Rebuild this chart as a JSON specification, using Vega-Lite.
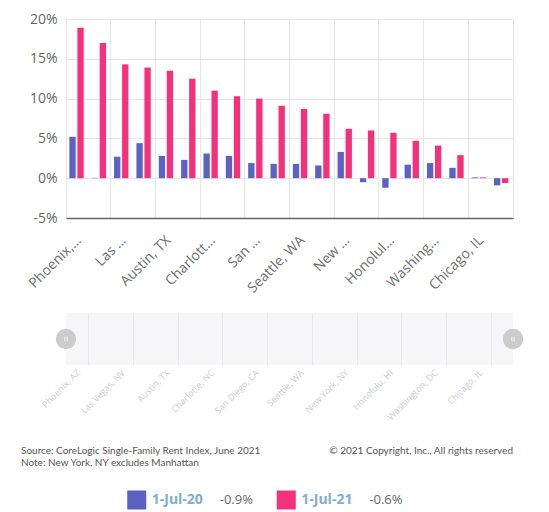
{
  "$schema": "https://vega.github.io/schema/vega-lite/v6.json",
  "background": "white",
  "padding": {"left": 21, "top": 11, "right": 5, "bottom": 0},
  "spacing": 17,
  "config": {"view": {"stroke": null}, "font": "Open Sans"},
  "datasets": {
    "rent": [
      {"city": "Phoenix, AZ", "series": "1-Jul-20", "value": 5.2},
      {"city": "Phoenix, AZ", "series": "1-Jul-21", "value": 18.9},
      {"city": "Tampa, FL", "series": "1-Jul-20", "value": 0.05},
      {"city": "Tampa, FL", "series": "1-Jul-21", "value": 17.0},
      {"city": "Las Vegas, NV", "series": "1-Jul-20", "value": 2.7},
      {"city": "Las Vegas, NV", "series": "1-Jul-21", "value": 14.3},
      {"city": "Atlanta, GA", "series": "1-Jul-20", "value": 4.4},
      {"city": "Atlanta, GA", "series": "1-Jul-21", "value": 13.9},
      {"city": "Austin, TX", "series": "1-Jul-20", "value": 2.8},
      {"city": "Austin, TX", "series": "1-Jul-21", "value": 13.5},
      {"city": "Miami, FL", "series": "1-Jul-20", "value": 2.3},
      {"city": "Miami, FL", "series": "1-Jul-21", "value": 12.5},
      {"city": "Charlotte, NC", "series": "1-Jul-20", "value": 3.1},
      {"city": "Charlotte, NC", "series": "1-Jul-21", "value": 11.0},
      {"city": "Dallas, TX", "series": "1-Jul-20", "value": 2.8},
      {"city": "Dallas, TX", "series": "1-Jul-21", "value": 10.3},
      {"city": "San Diego, CA", "series": "1-Jul-20", "value": 1.9},
      {"city": "San Diego, CA", "series": "1-Jul-21", "value": 10.0},
      {"city": "Denver, CO", "series": "1-Jul-20", "value": 1.8},
      {"city": "Denver, CO", "series": "1-Jul-21", "value": 9.1},
      {"city": "Seattle, WA", "series": "1-Jul-20", "value": 1.8},
      {"city": "Seattle, WA", "series": "1-Jul-21", "value": 8.7},
      {"city": "Houston, TX", "series": "1-Jul-20", "value": 1.6},
      {"city": "Houston, TX", "series": "1-Jul-21", "value": 8.1},
      {"city": "New York, NY", "series": "1-Jul-20", "value": 3.3},
      {"city": "New York, NY", "series": "1-Jul-21", "value": 6.2},
      {"city": "Los Angeles, CA", "series": "1-Jul-20", "value": -0.5},
      {"city": "Los Angeles, CA", "series": "1-Jul-21", "value": 6.0},
      {"city": "Honolulu, HI", "series": "1-Jul-20", "value": -1.2},
      {"city": "Honolulu, HI", "series": "1-Jul-21", "value": 5.7},
      {"city": "Minneapolis, MN", "series": "1-Jul-20", "value": 1.7},
      {"city": "Minneapolis, MN", "series": "1-Jul-21", "value": 4.7},
      {"city": "Washington, DC", "series": "1-Jul-20", "value": 1.9},
      {"city": "Washington, DC", "series": "1-Jul-21", "value": 4.1},
      {"city": "Boston, MA", "series": "1-Jul-20", "value": 1.3},
      {"city": "Boston, MA", "series": "1-Jul-21", "value": 2.9},
      {"city": "Chicago, IL", "series": "1-Jul-20", "value": 0.1},
      {"city": "Chicago, IL", "series": "1-Jul-21", "value": 0.1},
      {"city": "San Francisco, CA", "series": "1-Jul-20", "value": -0.9},
      {"city": "San Francisco, CA", "series": "1-Jul-21", "value": -0.6}
    ],
    "nav": [
      {"city": "Phoenix, AZ"}, {"city": "Las Vegas, NV"}, {"city": "Austin, TX"},
      {"city": "Charlotte, NC"}, {"city": "San Diego, CA"}, {"city": "Seattle, WA"},
      {"city": "New York, NY"}, {"city": "Honolulu, HI"}, {"city": "Washington, DC"},
      {"city": "Chicago, IL"}
    ],
    "handles": [
      {"handle": "start"},
      {"handle": "end"}
    ],
    "notes": [
      {"text": "Source: CoreLogic Single-Family Rent Index, June 2021", "col": "L", "line": 0},
      {"text": "Note: New York, NY excludes Manhattan", "col": "L", "line": 1},
      {"text": "© 2021 Copyright, Inc., All rights reserved", "col": "R", "line": 0}
    ],
    "leg": [
      {"series": "1-Jul-20", "val": "-0.9%"},
      {"series": "1-Jul-21", "val": "-0.6%"}
    ]
  },
  "vconcat": [
    {
      "width": 447,
      "height": 199,
      "view": {"stroke": "#e6e6e6"},
      "data": {"name": "rent"},
      "mark": {"type": "bar"},
      "encoding": {
        "x": {
          "field": "city", "type": "nominal", "sort": null,
          "scale": {"paddingInner": 0, "paddingOuter": 0},
          "axis": {
            "title": null,
            "values": ["Phoenix, AZ", "Las Vegas, NV", "Austin, TX", "Charlotte, NC", "San Diego, CA", "Seattle, WA", "New York, NY", "Honolulu, HI", "Washington, DC", "Chicago, IL"],
            "labelExpr": "datum.value == 'Phoenix, AZ' ? 'Phoenix,…' : datum.value == 'Las Vegas, NV' ? 'Las …' : datum.value == 'Charlotte, NC' ? 'Charlott…' : datum.value == 'San Diego, CA' ? 'San …' : datum.value == 'New York, NY' ? 'New …' : datum.value == 'Honolulu, HI' ? 'Honolul…' : datum.value == 'Washington, DC' ? 'Washing…' : datum.value",
            "labelAngle": -45,
            "labelFontSize": 14,
            "labelColor": "#707070",
            "labelFont": "Open Sans",
            "labelPadding": 15,
            "labelOffset": -3,
            "ticks": false,
            "tickSize": 0,
            "domainColor": "#666666",
            "domainWidth": 1.5,
            "grid": true,
            "gridColor": "#e6e6e6",
            "bandPosition": 0
          }
        },
        "xOffset": {
          "field": "series", "type": "nominal",
          "scale": {"paddingInner": 0.21, "paddingOuter": 0.5, "align": 0.42}
        },
        "y": {
          "field": "value", "type": "quantitative",
          "scale": {"domain": [-5, 20], "nice": false},
          "axis": {
            "title": null,
            "values": [-5, 0, 5, 10, 15, 20],
            "labelExpr": "datum.value + '%'",
            "labelFontSize": 14,
            "labelColor": "#666666",
            "labelFont": "Open Sans",
            "labelPadding": 9,
            "ticks": false,
            "domain": false,
            "grid": true,
            "gridColor": "#e6e6e6"
          }
        },
        "color": {
          "field": "series", "type": "nominal",
          "scale": {"domain": ["1-Jul-20", "1-Jul-21"], "range": ["#5a62c4", "#f5317c"]},
          "legend": null
        }
      }
    },
    {
      "width": 447,
      "height": 52,
      "view": {"fill": "#f6f6f8", "stroke": null},
      "resolve": {"scale": {"x": "independent"}, "axis": {"x": "independent"}},
      "layer": [
        {
          "data": {"name": "nav"},
          "mark": {"type": "point", "opacity": 0},
          "encoding": {
            "x": {
              "field": "city", "type": "nominal", "sort": null,
              "scale": {"paddingInner": 0, "paddingOuter": 0},
              "axis": {
                "title": null,
                "labelAngle": -45,
                "labelFontSize": 9,
                "labelColor": "#cdcdcd",
                "labelFont": "Open Sans",
                "labelOffset": -13,
                "labelPadding": 3,
                "ticks": false,
                "tickSize": 0,
                "domain": false,
                "grid": true,
                "gridColor": "#e9e9ec",
                "bandPosition": 0
              }
            }
          }
        },
        {
          "data": {"name": "handles"},
          "encoding": {
            "x": {"field": "handle", "type": "nominal", "sort": null, "scale": {"type": "point", "padding": 0}, "axis": null}
          },
          "layer": [
            {"mark": {"type": "circle", "size": 415, "color": "#cccccc", "opacity": 1}},
            {"mark": {"type": "point", "shape": "M-0.25,-0.5L-0.25,0.5M0.25,-0.5L0.25,0.5", "size": 90, "filled": false, "stroke": "#f4f4f4", "strokeWidth": 1, "opacity": 1}}
          ]
        }
      ]
    },
    {
      "spacing": 15,
      "vconcat": [
        {
          "width": 447,
          "height": 36,
          "data": {"name": "notes"},
          "encoding": {
            "x": {"field": "col", "type": "nominal", "scale": {"type": "point", "padding": 0, "domain": ["L", "R"]}, "axis": null},
            "y": {"field": "line", "type": "ordinal", "scale": {"type": "point", "padding": 1}, "axis": null},
            "text": {"field": "text"}
          },
          "layer": [
            {
              "transform": [{"filter": "datum.col == 'L'"}],
              "mark": {"type": "text", "align": "left", "baseline": "middle", "dx": -45, "font": "Lato", "fontSize": 10, "color": "#555555"}
            },
            {
              "transform": [{"filter": "datum.col == 'R'"}],
              "mark": {"type": "text", "align": "right", "baseline": "middle", "font": "Lato", "fontSize": 10, "color": "#555555"}
            }
          ]
        },
        {
          "width": 291,
          "height": 20,
          "data": {"name": "leg"},
          "encoding": {
            "x": {"field": "series", "type": "nominal", "scale": {"type": "point", "padding": 0.473}, "axis": null}
          },
          "layer": [
            {
              "mark": {"type": "square", "size": 361, "opacity": 1, "filled": true},
              "encoding": {
                "color": {"field": "series", "type": "nominal", "scale": {"domain": ["1-Jul-20", "1-Jul-21"], "range": ["#5a62c4", "#f5317c"]}, "legend": null}
              }
            },
            {
              "mark": {"type": "text", "align": "left", "baseline": "middle", "dx": 15, "font": "Open Sans", "fontSize": 14, "fontWeight": "bold", "color": "#7eaed2"},
              "encoding": {"text": {"field": "series"}}
            },
            {
              "mark": {"type": "text", "align": "left", "baseline": "middle", "dx": 83, "font": "Open Sans", "fontSize": 13, "color": "#666666"},
              "encoding": {"text": {"field": "val"}}
            }
          ]
        }
      ]
    }
  ]
}
